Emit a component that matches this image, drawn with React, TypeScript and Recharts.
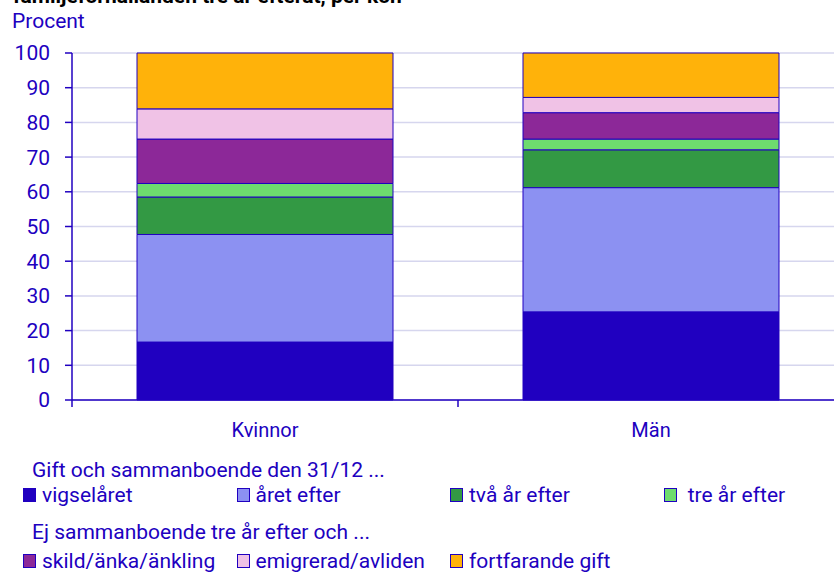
import React from 'react';
import { BarChart, Bar, XAxis, YAxis, CartesianGrid } from 'recharts';

// Kategorier och andelar (procent), nedifrån och upp i staplarna
const categories = ['Kvinnor', 'Män'];
const vigselaret = [16.7, 25.4];
const aretEfter = [31.0, 35.8];
const tvaArEfter = [10.8, 10.9];
const treArEfter = [3.9, 3.1];
const skild = [12.8, 7.6];
const emigrerad = [8.7, 4.4];
const fortfarandeGift = [16.1, 12.8];

const yTicks = [0, 10, 20, 30, 40, 50, 60, 70, 80, 90, 100];

const INK = '#2000c0';

const series = [
  { key: 'vigselaret', name: 'vigselåret', color: '#2000c0', values: vigselaret, group: 0 },
  { key: 'aretEfter', name: 'året efter', color: '#8c91f2', values: aretEfter, group: 0 },
  { key: 'tvaArEfter', name: 'två år efter', color: '#339944', values: tvaArEfter, group: 0 },
  { key: 'treArEfter', name: ' tre år efter', color: '#6edc6e', values: treArEfter, group: 0 },
  { key: 'skild', name: 'skild/änka/änkling', color: '#8c2898', values: skild, group: 1 },
  { key: 'emigrerad', name: 'emigrerad/avliden', color: '#f0c2e6', values: emigrerad, group: 1 },
  { key: 'fortfarande', name: 'fortfarande gift', color: '#ffb20a', values: fortfarandeGift, group: 1 },
];

const groupTitles = ['Gift och sammanboende den 31/12 ...', 'Ej sammanboende tre år efter och ...'];

const rows = categories.map((c, i) => {
  const row: any = { pos: i + 0.5, category: c };
  series.forEach((s) => (row[s.key] = s.values[i]));
  return row;
});

// category centres get a label, category borders get a tick mark
const xTicks: number[] = [];
for (let i = 0; i <= categories.length; i++) {
  xTicks.push(i);
  if (i < categories.length) xTicks.push(i + 0.5);
}

const CatTick = (props: any) => {
  const { x, y, payload } = props;
  const v = payload.value;
  if (Number.isInteger(v)) {
    return <line x1={x} x2={x} y1={y} y2={y + 7} stroke={INK} strokeWidth={1.5} />;
  }
  return (
    <text x={x} y={y + 37} textAnchor="middle" fill={INK} fontSize={20}>
      {categories[Math.floor(v)]}
    </text>
  );
};

const LegendRow = ({ group, top }: { group: number; top: number }) => (
  <div style={{ position: 'absolute', left: 23, top, display: 'flex', height: 28, alignItems: 'center' }}>
    {series
      .filter((s) => s.group === group)
      .map((s) => (
        <div key={s.key} style={{ width: 213.5, display: 'flex', alignItems: 'center', whiteSpace: 'pre' }}>
          <span
            style={{
              display: 'inline-block',
              width: 11,
              height: 12,
              background: s.color,
              border: `1px solid ${INK}`,
              marginRight: 6,
            }}
          />
          <span>{s.name}</span>
        </div>
      ))}
  </div>
);

const App = () => {
  return (
    <div
      style={{
        position: 'absolute',
        left: 0,
        top: 0,
        width: 834,
        height: 573,
        overflow: 'hidden',
        background: '#fff',
        fontFamily: 'Roboto, sans-serif',
        color: INK,
      }}
    >
      <div
        style={{
          position: 'absolute',
          left: 13,
          top: -16,
          fontSize: 21,
          fontWeight: 'bold',
          color: '#000',
          whiteSpace: 'nowrap',
        }}
      >
        familjeförhållanden tre år efteråt, per kön
      </div>
      <div style={{ position: 'absolute', left: 12, top: 9, fontSize: 21 }}>Procent</div>

      <div style={{ position: 'absolute', left: 0, top: 0 }}>
        <BarChart width={844} height={450} data={rows} margin={{ top: 53, right: 0, bottom: 0, left: 0 }}>
          <CartesianGrid vertical={false} stroke="#d6d6ee" strokeWidth={1.5} />
          <XAxis
            dataKey="pos"
            type="number"
            domain={[0, categories.length]}
            ticks={xTicks}
            interval={0}
            allowDecimals
            tick={<CatTick />}
            tickLine={false}
            tickSize={0}
            tickMargin={0}
            axisLine={{ stroke: INK, strokeWidth: 1.5 }}
            height={50}
          />
          <YAxis
            width={72}
            domain={[0, 100]}
            ticks={yTicks}
            interval={0}
            tickSize={7}
            tickMargin={15}
            tick={{ fill: INK, fontSize: 21 }}
            tickLine={{ stroke: INK, strokeWidth: 1.5 }}
            axisLine={{ stroke: INK, strokeWidth: 1.5 }}
          />
          {series.map((s) => (
            <Bar
              key={s.key}
              dataKey={s.key}
              name={s.name}
              stackId="a"
              fill={s.color}
              stroke={INK}
              strokeWidth={1}
              barSize={256}
              isAnimationActive={false}
            />
          ))}
        </BarChart>
      </div>

      <div style={{ position: 'absolute', left: 0, top: 0, fontSize: 21 }}>
        <div style={{ position: 'absolute', left: 32, top: 456, height: 28, lineHeight: '28px', whiteSpace: 'nowrap' }}>
          {groupTitles[0]}
        </div>
        <LegendRow group={0} top={481} />
        <div style={{ position: 'absolute', left: 32, top: 518, height: 28, lineHeight: '28px', whiteSpace: 'nowrap' }}>
          {groupTitles[1]}
        </div>
        <LegendRow group={1} top={547} />
      </div>
    </div>
  );
};

export default App;
